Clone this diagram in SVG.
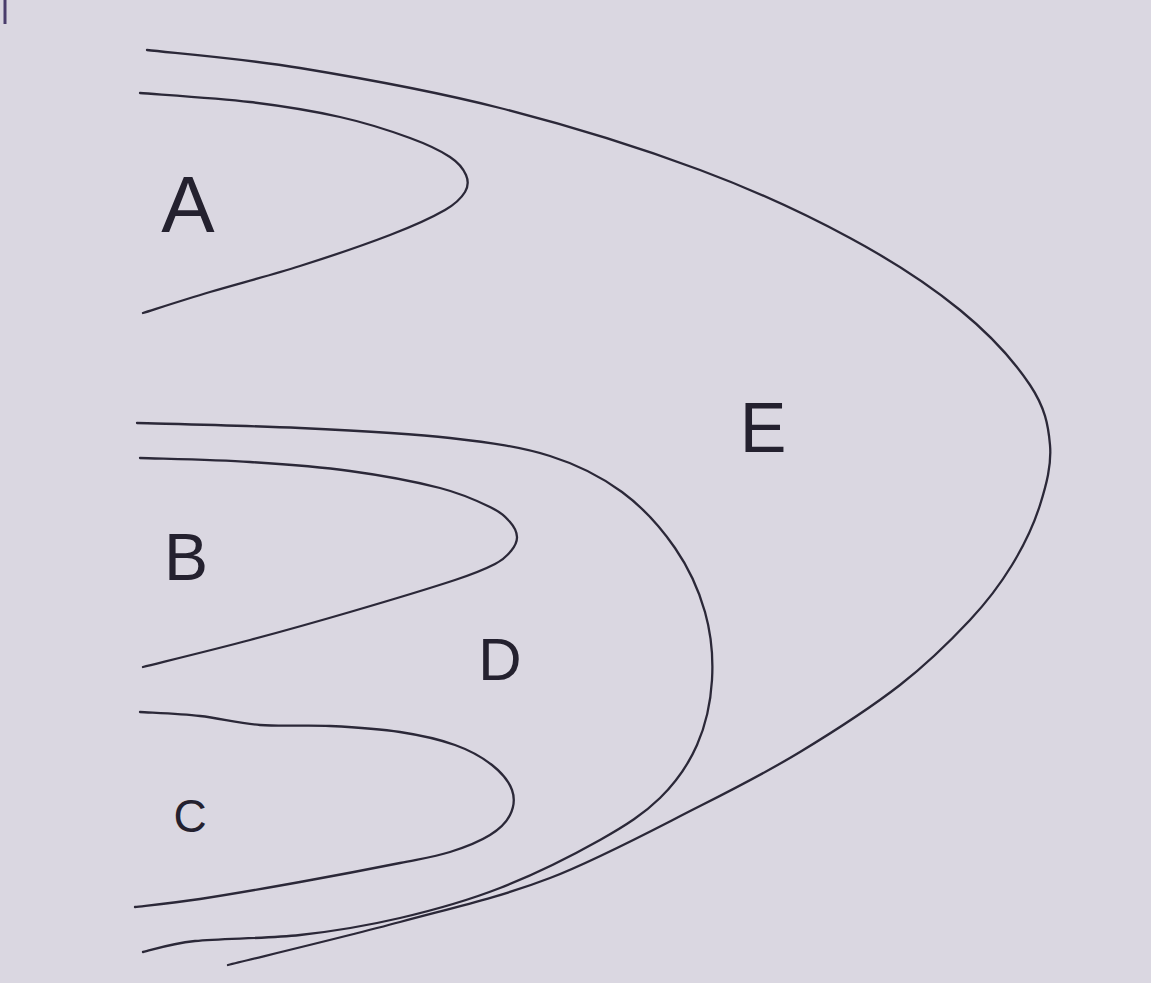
<svg xmlns="http://www.w3.org/2000/svg" width="1151" height="983" viewBox="0 0 1151 983">
<style>
.c{fill:none;stroke:#2b2838;stroke-width:2.3;stroke-linecap:round;stroke-linejoin:round}
.l{font-family:"Liberation Sans","DejaVu Sans",sans-serif;fill:#24212f;text-anchor:middle}
</style>
<rect width="1151" height="983" fill="#dad7e1"/>
<line x1="5" y1="0" x2="5" y2="24" stroke="#4a3d6c" stroke-width="3"/>
<g id="curves">
<path id="E-curve" class="c" d="M147,50 C172.5,53 241.2,58.3 300,68 C358.8,77.7 433.3,91 500,108 C566.7,125 641.7,148.3 700,170 C758.3,191.7 806.7,214.7 850,238 C893.3,261.3 930,285.5 960,310 C990,334.5 1015,362.5 1030,385 C1045,407.5 1048.3,425 1050,445 C1051.7,465 1046.3,485 1040,505 C1033.7,525 1023.7,545.8 1012,565 C1000.3,584.2 988.7,600 970,620 C951.3,640 928.3,663 900,685 C871.7,707 833.3,731.8 800,752 C766.7,772.2 741.7,785 700,806 C658.3,827 600,858.7 550,878 C500,897.3 453.7,907.5 400,922 C346.3,936.5 256.7,957.8 228,965"/>
<path id="D-curve" class="c" d="M137,423 C164.2,423.8 247.8,425.5 300,428 C352.2,430.5 408.3,433.3 450,438 C491.7,442.7 521.3,447 550,456 C578.7,465 601.2,476.7 622,492 C642.8,507.3 661.2,528 675,548 C688.8,568 698.8,590 705,612 C711.2,634 713.3,657.8 712,680 C710.7,702.2 705.7,725.3 697,745 C688.3,764.7 676.2,782.2 660,798 C643.8,813.8 626.7,825 600,840 C573.3,855 533.3,875 500,888 C466.7,901 433.3,910.2 400,918 C366.7,925.8 334.2,931.2 300,935 C265.8,938.8 221.2,938.2 195,941 C168.8,943.8 151.7,950.2 143,952"/>
<path id="A-curve" class="c" d="M140,93 C158.3,94.5 216.7,98 250,102 C283.3,106 313.3,111 340,117 C366.7,123 391.7,131.3 410,138 C428.3,144.7 440.7,150.8 450,157 C459.3,163.2 463.5,169.2 466,175 C468.5,180.8 468.5,186.2 465,192 C461.5,197.8 457.5,202.8 445,210 C432.5,217.2 414.2,225.7 390,235 C365.8,244.3 330,256.5 300,266 C270,275.5 236.2,284.2 210,292 C183.8,299.8 154.2,309.5 143,313"/>
<path id="B-curve" class="c" d="M140,458 C158.3,458.7 215,459.8 250,462 C285,464.2 318.3,466.7 350,471 C381.7,475.3 416.7,482 440,488 C463.3,494 478.3,501.3 490,507 C501.7,512.7 505.5,517 510,522 C514.5,527 516.8,532.2 517,537 C517.2,541.8 514.7,546.5 511,551 C507.3,555.5 504.3,559.2 495,564 C485.7,568.8 479.2,572 455,580 C430.8,588 384.2,602 350,612 C315.8,622 284.5,630.8 250,640 C215.5,649.2 160.8,662.5 143,667"/>
<path id="C-curve" class="c" d="M140,712 C150,712.7 180,713.8 200,716 C220,718.2 238.3,723.3 260,725 C281.7,726.7 306.7,724.8 330,726 C353.3,727.2 379.2,728.8 400,732 C420.8,735.2 439.7,739.5 455,745 C470.3,750.5 482.5,757.5 492,765 C501.5,772.5 509,781.7 512,790 C515,798.3 513.7,807.5 510,815 C506.3,822.5 500,828.8 490,835 C480,841.2 465,847.3 450,852 C435,856.7 425,858 400,863 C375,868 333.3,876 300,882 C266.7,888 227.5,894.8 200,899 C172.5,903.2 145.8,905.7 135,907"/>
</g>
<g id="A"><text class="l" x="188" y="232" font-size="80">A</text></g>
<g id="B"><text class="l" x="186" y="580" font-size="66">B</text></g>
<g id="C"><text class="l" x="190" y="832" font-size="46">C</text></g>
<g id="D"><text class="l" x="500" y="680" font-size="60">D</text></g>
<g id="E"><text class="l" x="763" y="452" font-size="70">E</text></g>
</svg>
